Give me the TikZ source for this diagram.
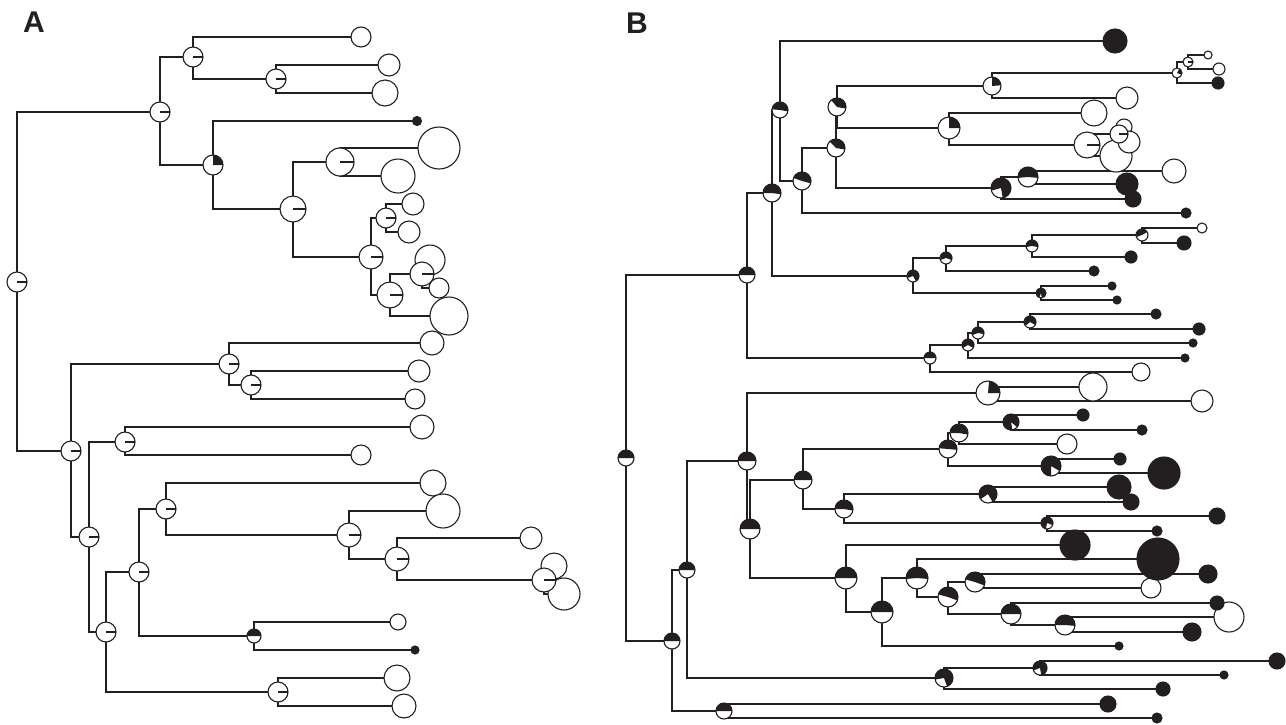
\documentclass[tikz,border=0pt]{standalone}
\usepackage{fontspec}
\setsansfont{Liberation Sans}
\definecolor{ink}{HTML}{231F20}
\pgfdeclarelayer{bg}
\pgfsetlayers{bg,main}
\tikzset{
 branch/.style={line width=1.1pt, draw=ink},
 rim/.style={line width=1.1pt, draw=ink},
 lbl/.style={font=\sffamily\bfseries\fontsize{30}{30}\selectfont, inner sep=0pt, text=ink},
}
\newcommand{\tipW}[2]{\filldraw[rim, fill=white] (#1) circle (#2pt);}
\newcommand{\tipB}[2]{\filldraw[rim, fill=ink] (#1) circle (#2pt);}
\newcommand{\pieN}[4]{\fill[white] (#1) circle (#2pt);
 \fill[ink] (#1) -- ++(#3:#2pt) arc[start angle=#3, end angle=#4, radius=#2pt] -- cycle;
 \draw[rim] (#1) circle (#2pt);}
\newcommand{\whiteN}[2]{\fill[white] (#1) circle (#2pt);
 \draw[rim] (#1) -- ++(0:#2pt);
 \draw[rim] (#1) circle (#2pt);}
\begin{document}
\begin{tikzpicture}[x=1pt,y=-1pt]
\useasboundingbox (0,0) rectangle (1286,724);
\node[lbl] (labA) at (34,22) {A};
\node[lbl] (labB) at (637,23) {B};
% ---------- tree A tips
\foreach \n/\x/\y/\rr in {t1/361/37/10, t2/389/65/11, t3/385/93/13, t5/439/148/21, t6/398/176/17,
 t7/413/204/11, t8/409/232/11, t9/430/260/15, t10/439/288/10, t11/449/316/19, t12/432/343/12,
 t13/419/371/11, t14/415/399/10, t15/422/427/12, t16/361/455/10, t17/433/483/13, t18/443/511/17,
 t19/531/538/11, t20/554/566/13, t21/564/594/16, t22/398/622/8, t24/397/678/13, t25/404/706/12}
 {\coordinate (\n) at (\x,\y); \tipW{\n}{\rr}}
\foreach \n/\x/\y/\rr in {t4/417/121/4.5, t23/415/650/4}
 {\coordinate (\n) at (\x,\y); \tipB{\n}{\rr}}
% ---------- tree B tips
\foreach \n/\x/\y/\rr in {u3/1127/98/11, u5/1208/55/4, u6/1219/69/6, u7/1094/113/13, u8/1116/156/16,
 u9/1124/127/8, u10/1129/142/11, u12/1174/171/12, u16/1202/228/5, u20/1141/372/9, u25/1093/387/14,
 u26/1202/401/11, u27/1067/444/10, u40/1151/588/10, u42/1229/617/15}
 {\coordinate (\n) at (\x,\y); \tipW{\n}{\rr}}
\foreach \n/\x/\y/\rr in {u1/1115/41/12, u2/1186/213/5, u4/1218/83/6, u11/1133/199/8, u13/1127/184/11,
 u14/1094/271/5, u15/1131/257/6, u17/1184/243/7, u18/1112/286/4, u19/1117/300/4, u21/1185/358/4,
 u22/1193/343/4, u23/1156/314/5, u24/1199/329/6, u28/1083/415/6, u29/1142/430/5, u30/1120/459/6,
 u31/1164/473/16, u32/1119/487/12, u33/1131/502/8, u34/1217/516/8, u35/1157/531/5, u36/1075/545/15,
 u37/1119/646/4, u38/1158/559/21, u39/1208/574/9, u41/1217/603/7, u43/1192/632/9, u44/1163/689/7,
 u45/1277/661/8, u46/1224/675/4, u47/1108/704/8, u48/1157/718/5}
 {\coordinate (\n) at (\x,\y); \tipB{\n}{\rr}}
% ---------- tree A internal nodes
\foreach \n/\x/\y/\rr in {a0/17/282/10, a1/160/112/10, a2/193/57/10, a3/276/79/10, a5/340/162/14,
 a6/293/209/13, a7/386/218/10, a8/371/257/12, a9/422/274/12, a10/390/295/13, a11/71/451/10,
 a12/229/364/10, a13/251/385/10, a14/89/537/10, a15/125/442/10, a16/106/632/10, a17/139/572/10,
 a18/166/509/10, a19/349/535/12, a20/397/559/12, a21/544/580/12, a23/278/692/10}
 {\coordinate (\n) at (\x,\y); \whiteN{\n}{\rr}}
\foreach \n/\x/\y/\rr/\sa/\ea in {a4/213/165/10/0/90, a22/254/636/7/0/180}
 {\coordinate (\n) at (\x,\y); \pieN{\n}{\rr}{\sa}{\ea}}
% ---------- tree B internal nodes
\foreach \n/\x/\y/\rr in {b7d/1188/62/5, b7e/1087/145/13, b7f/1119/134/9}
 {\coordinate (\n) at (\x,\y); \whiteN{\n}{\rr}}
\foreach \n/\x/\y/\rr/\sa/\ea in {b0/626/458/8/0/180, b1/747/275/8/0/180, b2/772/193/9/-8/180,
 b3/780/110/8/-10/175, b4/802/181/9/-15/160, b5/836/148/9/-10/135, b6/837/107/9/-10/130,
 b7/992/86/9/5/90, b7c/1177/73/5/-20/60, b7b/949/128/11/0/90, b9/1001/188/10/-80/195,
 b9b/1028/177/10/-5/185, b8/913/276/6/-60/200, b8a/946/258/6/-20/200, b8b/1032/246/6/-10/190,
 b8c/1142/235/6/30/200, b8d/1041/293/5/-80/250, b10/930/358/6/0/180, b11/968/345/6/-30/210,
 b12/978/333/6/-10/200, b13/1030/322/6/-30/220, b20/672/641/8/0/180, b21/687/570/8/0/180,
 b22/747/461/9/0/180, b23/988/393/12/0/85, b24/750/529/10/0/180, b25/803/480/9/0/180,
 b26/948/449/9/-5/175, b27/959/433/9/-10/180, b27a/1011/422/8/-40/280, b28/1051/466/10/-30/270,
 b29/844/509/9/-10/180, b29a/988/494/9/-60/215, b29b/1047/523/6/-20/260, b30/846/578/11/0/180,
 b31/882/612/11/0/180, b32/917/578/11/-5/185, b33/948/597/10/-20/165, b33a/975/582/10/-20/165,
 b34/1011/614/10/0/180, b34a/1065/625/10/-5/180, b35/944/678/9/-70/190, b36/1040/668/7/-80/200,
 b40/724/711/8/0/180}
 {\coordinate (\n) at (\x,\y); \pieN{\n}{\rr}{\sa}{\ea}}
% ---------- branches
\begin{pgfonlayer}{bg}
\foreach \p/\c in {a0/a1, a0/a11, a1/a2, a1/a4, a2/t1, a2/a3, a3/t2, a3/t3, a4/t4, a4/a6, a6/a5,
 a6/a8, a5/t5, a5/t6, a8/a7, a8/a10, a7/t7, a7/t8, a10/a9, a10/t11, a9/t9, a9/t10, a11/a12,
 a11/a14, a12/t12, a12/a13, a13/t13, a13/t14, a14/a15, a14/a16, a15/t15, a15/t16, a16/a17,
 a16/a23, a17/a18, a17/a22, a18/t17, a18/a19, a19/t18, a19/a20, a20/t19, a20/a21, a21/t20,
 a21/t21, a22/t22, a22/t23, a23/t24, a23/t25}
 {\draw[branch] (\p) |- (\c);}
\foreach \p/\c in {b0/b1, b0/b20, b1/b2, b1/b10, b2/b3, b2/b8, b3/u1, b3/b4, b4/b5, b4/u2, b5/b6,
 b5/b9, b6/b7, b6/b7b, b7/b7c, b7/u3, b7c/b7d, b7c/u4, b7d/u5, b7d/u6, b7b/u7, b7b/b7e, b7e/b7f,
 b7e/u8, b7f/u9, b7f/u10, b9/b9b, b9/u11, b9b/u12, b9b/u13, b8/b8a, b8/b8d, b8a/b8b, b8a/u14,
 b8b/b8c, b8b/u15, b8c/u16, b8c/u17, b8d/u18, b8d/u19, b10/b11, b10/u20, b11/b12, b11/u21,
 b12/b13, b12/u22, b13/u23, b13/u24, b20/b21, b20/b40, b21/b22, b21/b35, b22/b23, b22/b24,
 b23/u25, b23/u26, b24/b25, b24/b30, b25/b26, b25/b29, b26/b27, b26/b28, b27/b27a, b27/u27,
 b27a/u28, b27a/u29, b28/u30, b28/u31, b29/b29a, b29/b29b, b29a/u32, b29a/u33, b29b/u34,
 b29b/u35, b30/u36, b30/b31, b31/b32, b31/u37, b32/u38, b32/b33, b33/b33a, b33/b34, b33a/u39,
 b33a/u40, b34/u41, b34/b34a, b34a/u42, b34a/u43, b35/b36, b35/u44, b36/u45, b36/u46, b40/u47,
 b40/u48}
 {\draw[branch] (\p) |- (\c);}
\end{pgfonlayer}
\end{tikzpicture}
\end{document}
